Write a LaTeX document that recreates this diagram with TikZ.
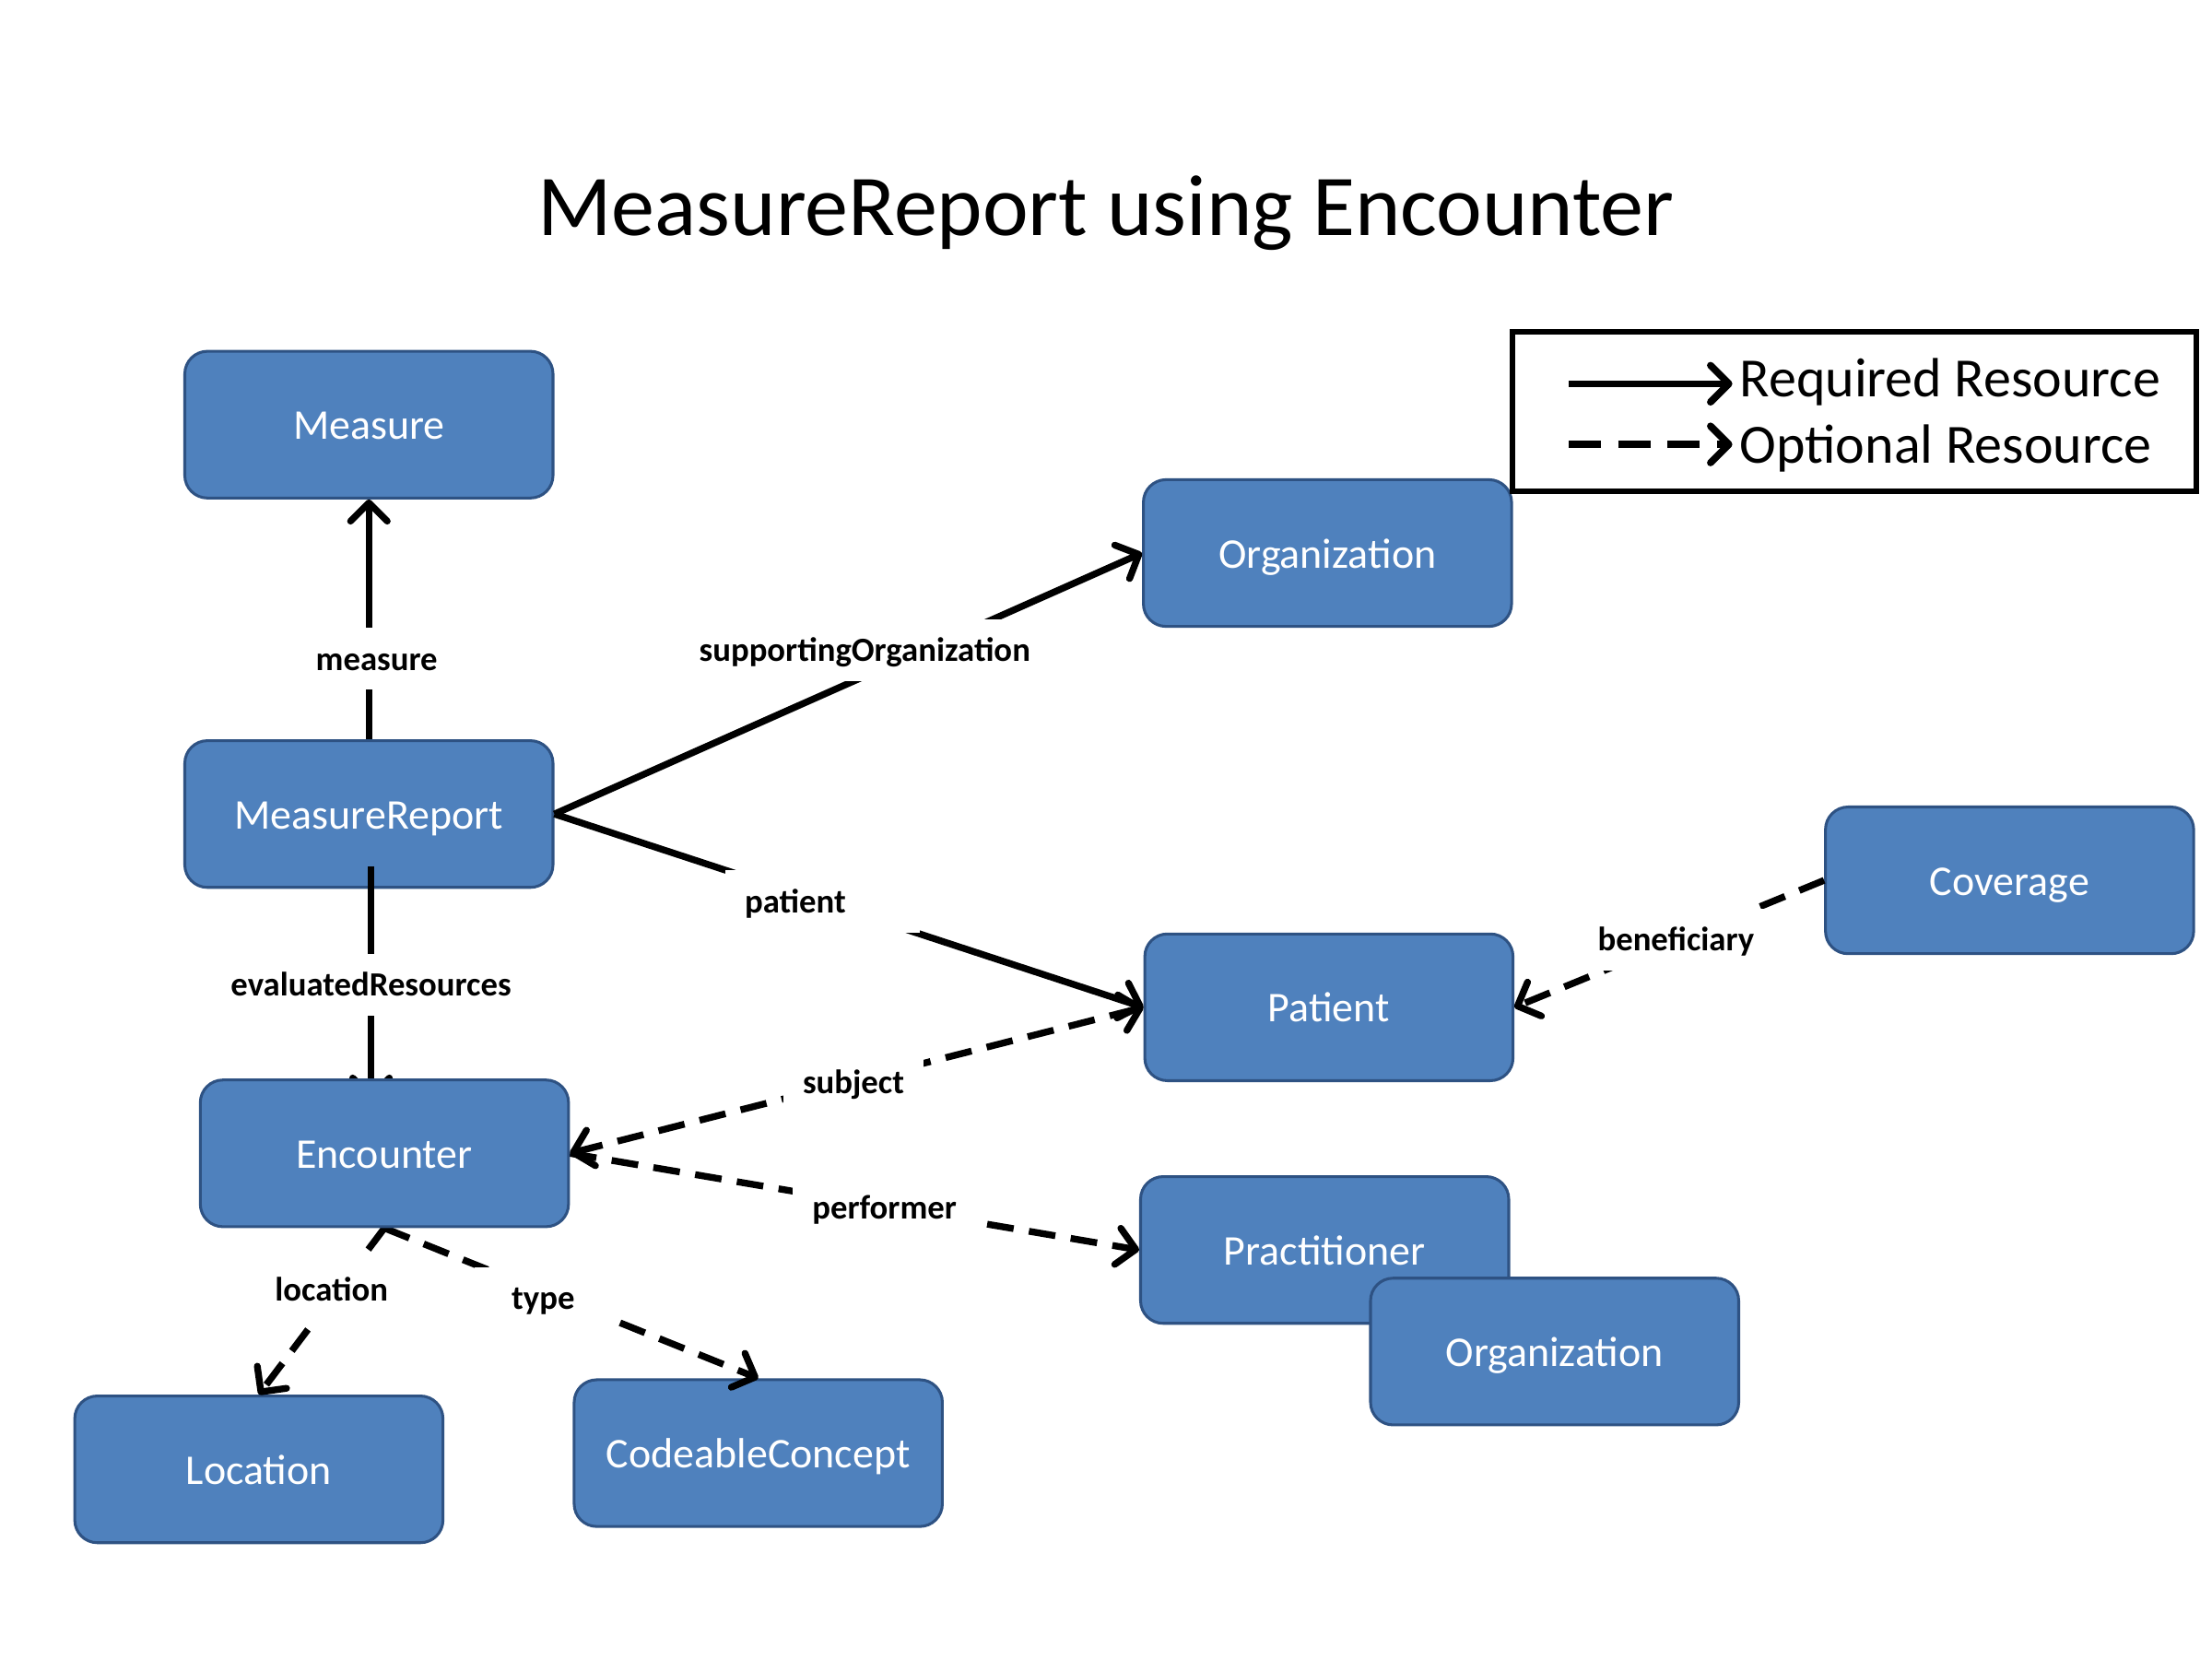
\documentclass[tikz,border=0pt]{standalone}
\usepackage{fontspec}
\setmainfont{Carlito}
\usetikzlibrary{arrows.meta}
\definecolor{boxfill}{HTML}{4F81BD}
\definecolor{boxline}{HTML}{2E5283}
\pgfdeclarelayer{fg}
\pgfsetlayers{main,fg}
\tikzset{
  res/.style={draw=boxline, line width=2pt, fill=boxfill, rounded corners=16pt,
    minimum width=261pt, minimum height=104pt, text=white, inner sep=0pt,
    font=\fontsize{30}{36}\selectfont, text height=23.5pt, text depth=2.5pt},
  tipend/.style={-{Straight Barb[length=13pt,width=26pt,round]}},
  tipboth/.style={{Straight Barb[length=13pt,width=26pt,round]}-{Straight Barb[length=13pt,width=26pt,round]}},
  req/.style={line width=4.8pt, tipend},
  opt/.style={req, dash pattern=on 19pt off 11pt},
  optboth/.style={line width=4.8pt, tipboth, dash pattern=on 19pt off 11pt},
  lbl/.style={fill=white, font=\fontsize{24}{29}\selectfont\bfseries,
    text height=19pt, text depth=3pt, inner xsep=14pt, inner ysep=0pt, minimum height=44pt},
  legtext/.style={anchor=base west, font=\fontsize{39.2}{47}\selectfont, inner sep=0pt},
}
\begin{document}
\begin{tikzpicture}[x=1pt,y=-1pt]
\useasboundingbox (0,0) rectangle (1568,1176);

\node[anchor=base, inner sep=0pt] (title) at (784,167) {\fontsize{61.5}{74}\selectfont MeasureReport using Encounter};

% resources
\node[res] (m) at (261.5,301) {Measure};
\node[res] (mr) at (261.5,577) {MeasureReport};
\node[res] (org1) at (941,392) {Organization};
\node[res] (cov) at (1424.5,624) {Coverage};
\node[res] (pat) at (942,714) {Patient};
\node[res] (prac) at (939,886) {Practitioner};
\node[res] (org2) at (1102,958) {Organization};
\node[res] (loc) at (183.5,1041.5) {Location};
\node[res] (cc) at (537.5,1030) {CodeableConcept};
\begin{pgfonlayer}{fg}
\node[res] (enc) at (272.5,817.5) {Encounter};
\end{pgfonlayer}

% connectors
\draw[req] (mr.north) -- (m.south);
\draw[req] (mr.east) -- (org1.west);
\draw[req] (mr.east) -- (pat.west);
\draw[req] ([xshift=1.5pt,yshift=16pt]mr.south) -- ([xshift=-9.5pt,yshift=-15pt]enc.north);
\draw[optboth] (enc.east) -- (pat.west);
\draw[opt] (enc.east) -- (prac.west);
\draw[opt] (enc.south) -- (loc.north);
\draw[opt] (enc.south) -- (cc.north);
\draw[opt] (cov.west) -- (pat.east);

% connector labels
\node[lbl] (lm) at (267,467) {measure};
\node[lbl] (lso) at (613,461) {supportingOrganization};
\node[lbl, text width=110pt, align=left] (lp) at (583,639) {patient};
\node[lbl] (ler) at (263,698) {evaluatedResources};
\node[lbl] (lsub) at (605,767) {subject};
\node[lbl] (lperf) at (627,856) {performer};
\node[lbl] (lloc) at (235,914) {location};
\node[lbl, inner xsep=26pt] (ltype) at (385,920) {type};
\node[lbl] (lben) at (1188,666) {beneficiary};

% legend
\node[draw, line width=4pt, minimum width=485pt, minimum height=113pt, inner sep=0pt] (legend) at (1314.5,291.5) {};
\coordinate (r1) at (1112,272);
\coordinate (r2) at (1228,272);
\coordinate (o1) at (1112,315);
\coordinate (o2) at (1228,315);
\draw[req, line width=5pt] (r1) -- (r2);
\draw[opt, line width=5pt, dash pattern=on 23pt off 12pt] (o1) -- (o2);
\node[legtext] (lreq) at (1233,281) {Required Resource};
\node[legtext] (lopt) at (1233,328) {Optional Resource};
\end{tikzpicture}
\end{document}
